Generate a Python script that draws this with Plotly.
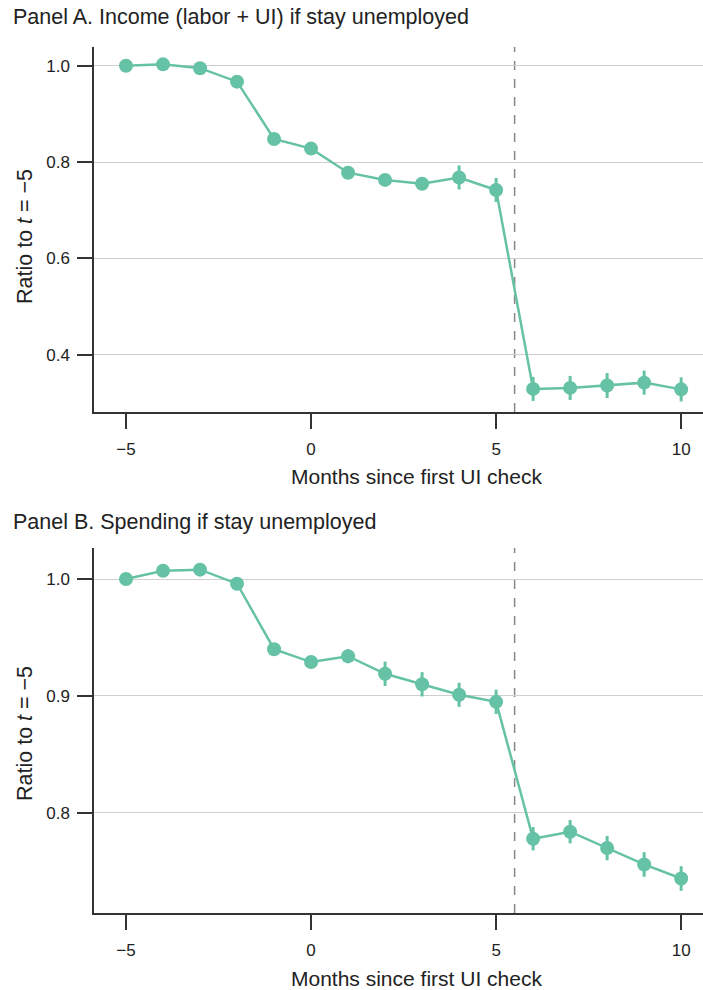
import plotly.graph_objects as go

months = [-5, -4, -3, -2, -1, 0, 1, 2, 3, 4, 5, 6, 7, 8, 9, 10]

income = [1.000, 1.003, 0.995, 0.967, 0.848, 0.828, 0.778, 0.763, 0.755, 0.768, 0.742,
          0.329, 0.331, 0.336, 0.342, 0.328]
income_err = [0.0, 0.004, 0.006, 0.008, 0.01, 0.01, 0.01, 0.012, 0.012, 0.025, 0.025,
              0.025, 0.025, 0.026, 0.025, 0.025]

spending = [1.000, 1.007, 1.008, 0.996, 0.940, 0.929, 0.934, 0.919, 0.910, 0.901, 0.895,
            0.778, 0.784, 0.770, 0.756, 0.744]
spending_err = [0.0, 0.003, 0.003, 0.004, 0.005, 0.005, 0.006, 0.0104, 0.0104, 0.0103, 0.0104,
                0.010, 0.010, 0.0104, 0.0105, 0.0105]

panel_titles = ["Panel A. Income (labor + UI) if stay unemployed",
                "Panel B. Spending if stay unemployed"]
x_title = "Months since first UI check"
y_title = "Ratio to <i>t</i> = −5"
x_ticks = [-5, 0, 5, 10]
x_ticktext = ["−5", "0", "5", "10"]
yA_ticks = [0.4, 0.6, 0.8, 1.0]
yB_ticks = [0.8, 0.9, 1.0]
cutoff = 5.5

GREEN = "#66c2a5"
FONT = "Liberation Sans, Arial, Helvetica, sans-serif"
H = 990
W = 703
L = 94
PW = W - L

fig = go.Figure()
fig.add_trace(go.Scatter(x=months, y=income, mode="lines+markers",
                         line=dict(color=GREEN, width=2.5),
                         marker=dict(color=GREEN, size=14),
                         error_y=dict(type="data", array=income_err, color=GREEN, thickness=3, width=0),
                         xaxis="x", yaxis="y", showlegend=False))
fig.add_trace(go.Scatter(x=months, y=spending, mode="lines+markers",
                         line=dict(color=GREEN, width=2.5),
                         marker=dict(color=GREEN, size=14),
                         error_y=dict(type="data", array=spending_err, color=GREEN, thickness=3, width=0),
                         xaxis="x2", yaxis="y2", showlegend=False))

def dom(top, bottom):
    return [1 - bottom / H, 1 - top / H]

def px(xpix):
    return (xpix - L) / PW

def py(ypix):
    return 1 - ypix / H

xcommon = dict(range=[-5.865, 10.59], tickvals=x_ticks, ticktext=x_ticktext,
               ticks="outside", ticklen=15, tickwidth=1.5, tickcolor="#333",
               showline=True, linecolor="#333", linewidth=1.5, showgrid=False, zeroline=False,
               ticklabelstandoff=6,
               tickfont=dict(size=17, color="#222", family=FONT))
ycommon = dict(ticks="outside", ticklen=15, tickwidth=1.5, tickcolor="#333",
               showline=True, linecolor="#333", linewidth=1.5,
               showgrid=True, gridcolor="#cfcfcf", gridwidth=1.2, zeroline=False,
               ticklabelstandoff=4,
               tickformat=".1f", tickfont=dict(size=17, color="#222", family=FONT))

fig.update_layout(
    width=W, height=H,
    margin=dict(l=L, r=0, t=0, b=0),
    plot_bgcolor="white", paper_bgcolor="white",
    font=dict(family=FONT, color="#222"),
    xaxis=dict(domain=[0, 1], anchor="y", **xcommon),
    yaxis=dict(domain=dom(47, 412), anchor="x", range=[0.281, 1.039], tickvals=yA_ticks, **ycommon),
    xaxis2=dict(domain=[0, 1], anchor="y2", **xcommon),
    yaxis2=dict(domain=dom(548, 913), anchor="x2", range=[0.7145, 1.0265], tickvals=yB_ticks, **ycommon),
)

for xr, yr in [("x", "y domain"), ("x2", "y2 domain")]:
    fig.add_shape(type="line", xref=xr, yref=yr, x0=cutoff, x1=cutoff, y0=0, y1=1,
                  line=dict(color="#888", width=1.5, dash="dash"), layer="below")

for title, yc in zip(panel_titles, [17, 522]):
    fig.add_annotation(text=title, xref="paper", yref="paper", x=px(11), y=py(yc),
                       xanchor="left", yanchor="middle", showarrow=False,
                       font=dict(size=21.5, color="#222", family=FONT))
for yc in [237, 734]:
    fig.add_annotation(text=y_title, xref="paper", yref="paper", x=px(25), y=py(yc),
                       xanchor="center", yanchor="middle", textangle=-90, showarrow=False,
                       font=dict(size=21.5, color="#222", family=FONT))
for yc in [476, 978]:
    fig.add_annotation(text=x_title, xref="paper", yref="paper", x=px(416), y=py(yc),
                       xanchor="center", yanchor="middle", showarrow=False,
                       font=dict(size=21, color="#222", family=FONT))

fig.write_html("out.html")
